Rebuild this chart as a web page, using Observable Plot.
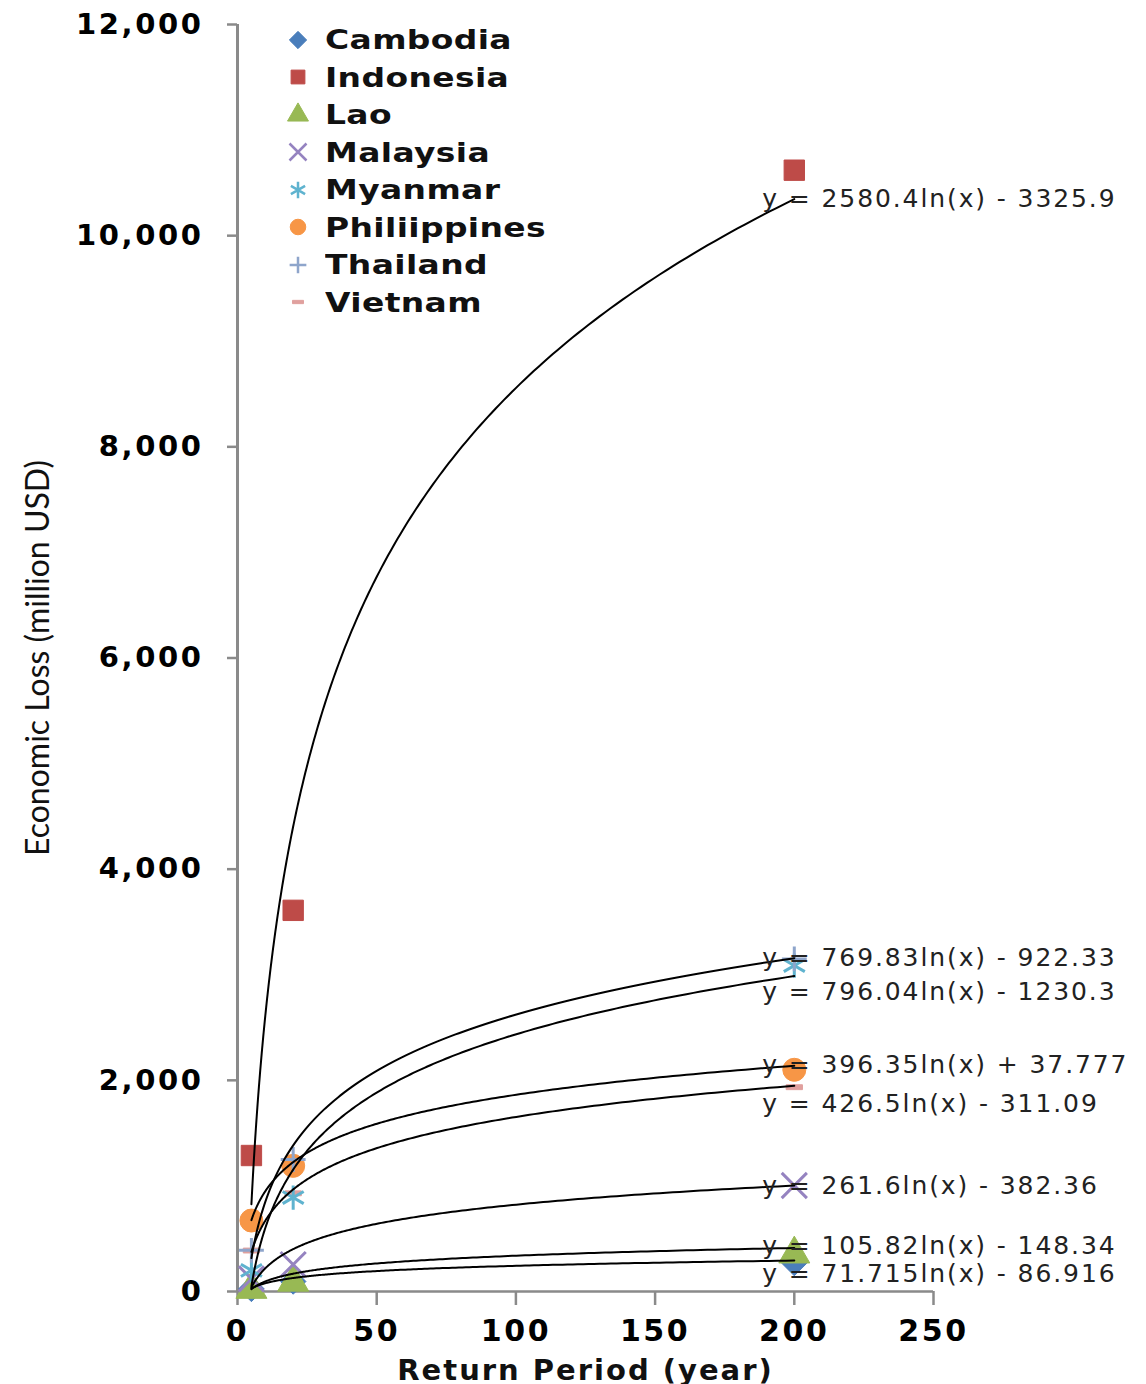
<!DOCTYPE html>
<html>
<head>
<meta charset="utf-8">
<script src="https://cdn.jsdelivr.net/npm/d3@7"></script>
<script src="https://cdn.jsdelivr.net/npm/@observablehq/plot@0.6"></script>
<style>
  body { margin: 0; background: #fff; }
  #wrap { position: relative; width: 1146px; height: 1384px; }
  #legend { position: absolute; left: 285px; top: 21px; font-family: "DejaVu Sans"; font-weight: bold; font-size: 27px; color: #111; }
  #legend .row { display: flex; align-items: center; height: 37.5px; white-space: nowrap; }
  #legend .row svg { width: 26px; height: 26px; margin-right: 14px; flex: none; }
  #legend .row span { display: inline-block; transform: scaleX(1.22); transform-origin: left center; letter-spacing: 0.3px; }
  g[aria-label="y-axis tick label"] text, g[aria-label="x-axis tick label"] text { letter-spacing: 2.6px; }
</style>
</head>
<body>
<div id="wrap"><div id="legend"></div></div>
<script>
// ---- data ----
const returnPeriods = [5, 20, 200];
const countries = ["Cambodia", "Indonesia", "Lao", "Malaysia", "Myanmar", "Philiippines", "Thailand", "Vietnam"];
const lossRP5   = [25, 1288, 20, 120, 200, 672, 390, 388];
const lossRP20  = [95, 3610, 88, 255, 890, 1190, 1250, 930];
const lossRP200 = [270, 10620, 355, 1004, 3087, 2100, 3150, 1935];
const trendSlope     = [71.715, 2580.4, 105.82, 261.6, 796.04, 396.35, 769.83, 426.5];
const trendIntercept = [-86.916, -3325.9, -148.34, -382.36, -1230.3, 37.777, -922.33, -311.09];
const xTicks = [0, 50, 100, 150, 200, 250];
const yTicks = [0, 2000, 4000, 6000, 8000, 10000, 12000];
const xTitle = "Return Period (year)";
const yTitle = "Economic Loss (million USD)";

// ---- styles ----
const colors = ["#4a7ebb", "#be4b48", "#98b954", "#9583c0", "#5fb3cf", "#f79646", "#8ea5cb", "#e0a09e"];
const scaled = (sym, k) => ({ draw(ctx, size) { sym.draw(ctx, size * k * k); } });
const dash = { draw(ctx, size) { const w = Math.sqrt(size) * 0.8, h = w * 0.3; ctx.rect(-w / 2, -h / 2, w, h); } };
const symbols = [d3.symbolDiamond2, d3.symbolSquare, d3.symbolTriangle, d3.symbolTimes,
                 d3.symbolAsterisk, d3.symbolCircle, scaled(d3.symbolPlus, 0.7), dash];
const lineSymbols = new Set(["Malaysia", "Myanmar", "Thailand"]);

// ---- tables ----
const lossByRP = [lossRP5, lossRP20, lossRP200];
const points = countries.flatMap((c, i) => returnPeriods.map((rp, j) => ({ country: c, rp, loss: lossByRP[j][i] })));
const curveX = d3.range(0, 241).map(i => returnPeriods[0] * Math.pow(returnPeriods[2] / returnPeriods[0], i / 240));
const curves = countries.flatMap((c, i) => curveX.map(x => ({ country: c, x, y: trendSlope[i] * Math.log(x) + trendIntercept[i] })));
const fmt = v => String(v);
const equations = countries.map((c, i) => ({
  country: c,
  x: returnPeriods[2],
  y: trendSlope[i] * Math.log(returnPeriods[2]) + trendIntercept[i],
  text: `y = ${fmt(trendSlope[i])}ln(x) ${trendIntercept[i] < 0 ? "-" : "+"} ${fmt(Math.abs(trendIntercept[i]))}`
}));
const labelDy = { Cambodia: 13, Indonesia: 0, Lao: -2, Malaysia: 0, Myanmar: 16, Philiippines: -1, Thailand: 0, Vietnam: 18 };

const chart = Plot.plot({
  width: 1146,
  height: 1384,
  marginTop: 24,
  marginBottom: 93,
  marginLeft: 237,
  marginRight: 213,
  style: { fontFamily: "DejaVu Sans", color: "#000", background: "#fff", overflow: "visible" },
  x: { domain: [0, 250], label: null },
  y: { domain: [0, 12000], label: null },
  color: { domain: countries, range: colors },
  symbol: { domain: countries, range: symbols },
  marks: [
    Plot.ruleX([0], { stroke: "#8a8a8a", strokeWidth: 3 }),
    Plot.ruleY([0], { stroke: "#8a8a8a", strokeWidth: 2.5 }),
    Plot.axisY({ ticks: yTicks, tickFormat: d3.format(","), tickSize: 10, tickPadding: 24,
                 fontSize: 29, fontWeight: "bold", stroke: "#8a8a8a", strokeWidth: 2.5, label: null }),
    Plot.axisX({ ticks: xTicks, tickSize: 14, tickPadding: 14,
                 fontSize: 30, fontWeight: "bold", stroke: "#8a8a8a", strokeWidth: 2.5, label: null }),
    Plot.dot(points.filter(d => !lineSymbols.has(d.country)), {
      x: "rp", y: "loss", symbol: "country", fill: "country", stroke: "country", strokeWidth: 1, r: 11.5
    }),
    Plot.dot(points.filter(d => lineSymbols.has(d.country)), {
      x: "rp", y: "loss", symbol: "country", stroke: "country", fill: "none", strokeWidth: 3, r: 11.5
    }),
    Plot.line(curves, { x: "x", y: "y", z: "country", stroke: "#000", strokeWidth: 2 }),
    ...equations.map(e => Plot.text([e], {
      x: "x", y: "y", text: "text", textAnchor: "start", lineAnchor: "middle",
      dx: -32, dy: labelDy[e.country], fontSize: 25, fill: "#222"
    })),
    Plot.text([xTitle], { frameAnchor: "bottom", textAnchor: "middle", lineAnchor: "bottom", dy: 88, text: d => d,
      fontSize: 29, fontWeight: "bold", fill: "#111" }),
    Plot.text([yTitle], { frameAnchor: "left", textAnchor: "middle", rotate: -90, dx: -199, text: d => d,
      fontSize: 32, fontFamily: "Lato", fill: "#111" })
  ]
});

// letter spacing to match the reference's wide lettering
d3.select(chart).selectAll("text").each(function () {
  const t = this.textContent;
  if (t.startsWith("y = ")) this.style.letterSpacing = "1.9px";
  else if (t === xTitle) this.style.letterSpacing = "2px";
});

const wrap = document.getElementById("wrap");
wrap.insertBefore(chart, wrap.firstChild);

// legend (inside the plot area, as in the reference)
const legend = d3.select("#legend");
countries.forEach((c, i) => {
  const row = legend.append("div").attr("class", "row");
  const svg = row.append("svg").attr("viewBox", "-13 -13 26 26");
  const isLine = lineSymbols.has(c);
  svg.append("path")
    .attr("d", d3.symbol(symbols[i], 190)())
    .attr("fill", isLine ? "none" : colors[i])
    .attr("stroke", colors[i])
    .attr("stroke-width", isLine ? 2.5 : 1);
  row.append("span").text(c);
});
</script>
</body>
</html>
